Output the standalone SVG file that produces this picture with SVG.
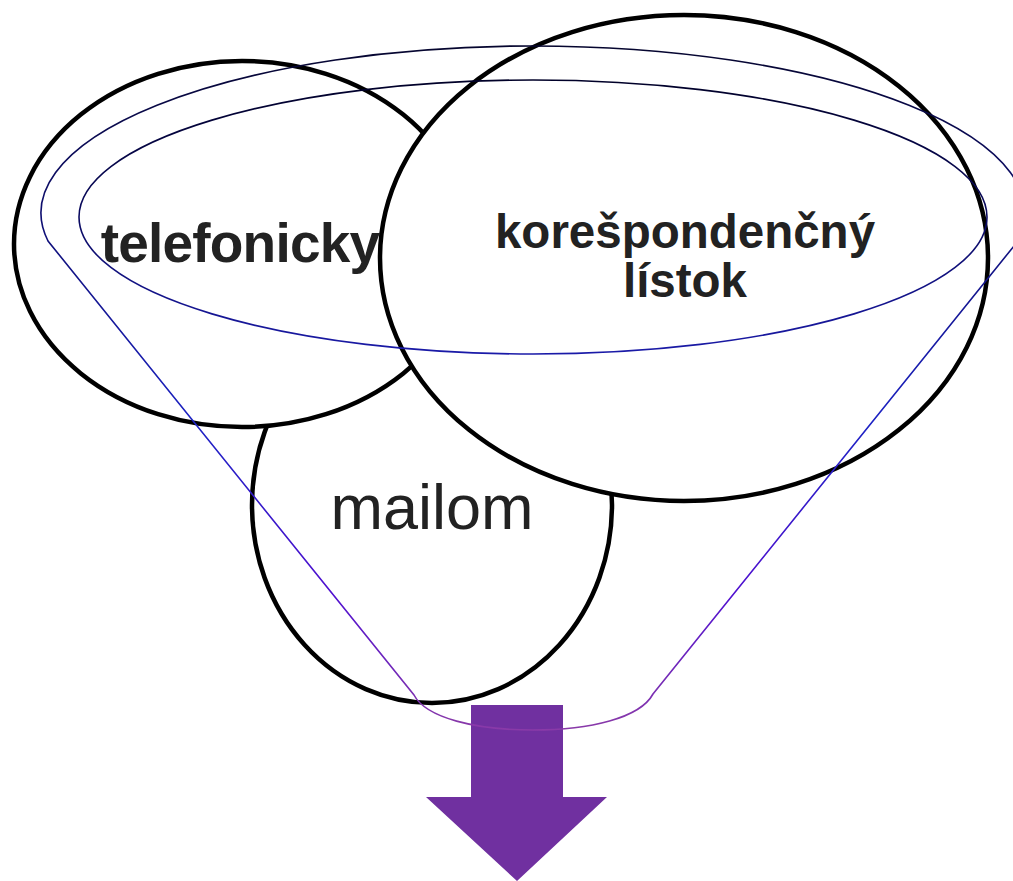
<svg xmlns="http://www.w3.org/2000/svg" width="1013" height="881" viewBox="0 0 1013 881">
  <style>
    .node { fill: #ffffff; stroke: #000000; stroke-width: 4.5; }
    .lbl { font-family: "Liberation Sans", Arial, sans-serif; fill: #222222; text-anchor: middle; }
    .bold { font-weight: bold; }
  </style>
  <defs>
    <linearGradient id="funnelGrad" gradientUnits="userSpaceOnUse" x1="0" y1="46" x2="0" y2="730">
      <stop offset="0" stop-color="#05052e"/>
      <stop offset="0.28" stop-color="#10107a"/>
      <stop offset="0.55" stop-color="#1c22c4"/>
      <stop offset="0.8" stop-color="#5010d0"/>
      <stop offset="1" stop-color="#8a3aa8"/>
    </linearGradient>
    <linearGradient id="innerGrad" gradientUnits="userSpaceOnUse" x1="0" y1="80" x2="0" y2="354">
      <stop offset="0" stop-color="#000028"/>
      <stop offset="0.5" stop-color="#0a0a60"/>
      <stop offset="1" stop-color="#1a1aa8"/>
    </linearGradient>
  </defs>

  <g id="node-mailom">
    <ellipse class="node" cx="432" cy="505" rx="180" ry="198"/>
    <text class="lbl" x="432" y="529" font-size="63">mailom</text>
  </g>

  <g id="node-telefonicky">
    <ellipse class="node" cx="242" cy="244" rx="228" ry="183"/>
    <text class="lbl bold" x="240" y="262" font-size="55" letter-spacing="-0.8">telefonicky</text>
  </g>

  <g id="node-korespondencny">
    <ellipse class="node" cx="684" cy="258" rx="304" ry="243"/>
    <text class="lbl bold" x="685" y="248" font-size="47.5">korešpondenčný</text>
    <text class="lbl bold" x="685" y="297" font-size="47.5">lístok</text>
  </g>

  <g id="node-arrow">
    <polygon points="471,705 563,705 563,797 607,797 517,881 426,797 471,797" fill="#7030a0"/>
  </g>

  <g id="connectors" fill="none" stroke-width="1.6">
    <ellipse cx="533" cy="217" rx="454" ry="137" stroke="url(#innerGrad)"/>
    <path d="M48,241 A492,167 0 1 1 1018,241 L653,694 C640,718 590,730 533,730 C476,730 426,718 414,695 Z" stroke="url(#funnelGrad)"/>
  </g>
</svg>
